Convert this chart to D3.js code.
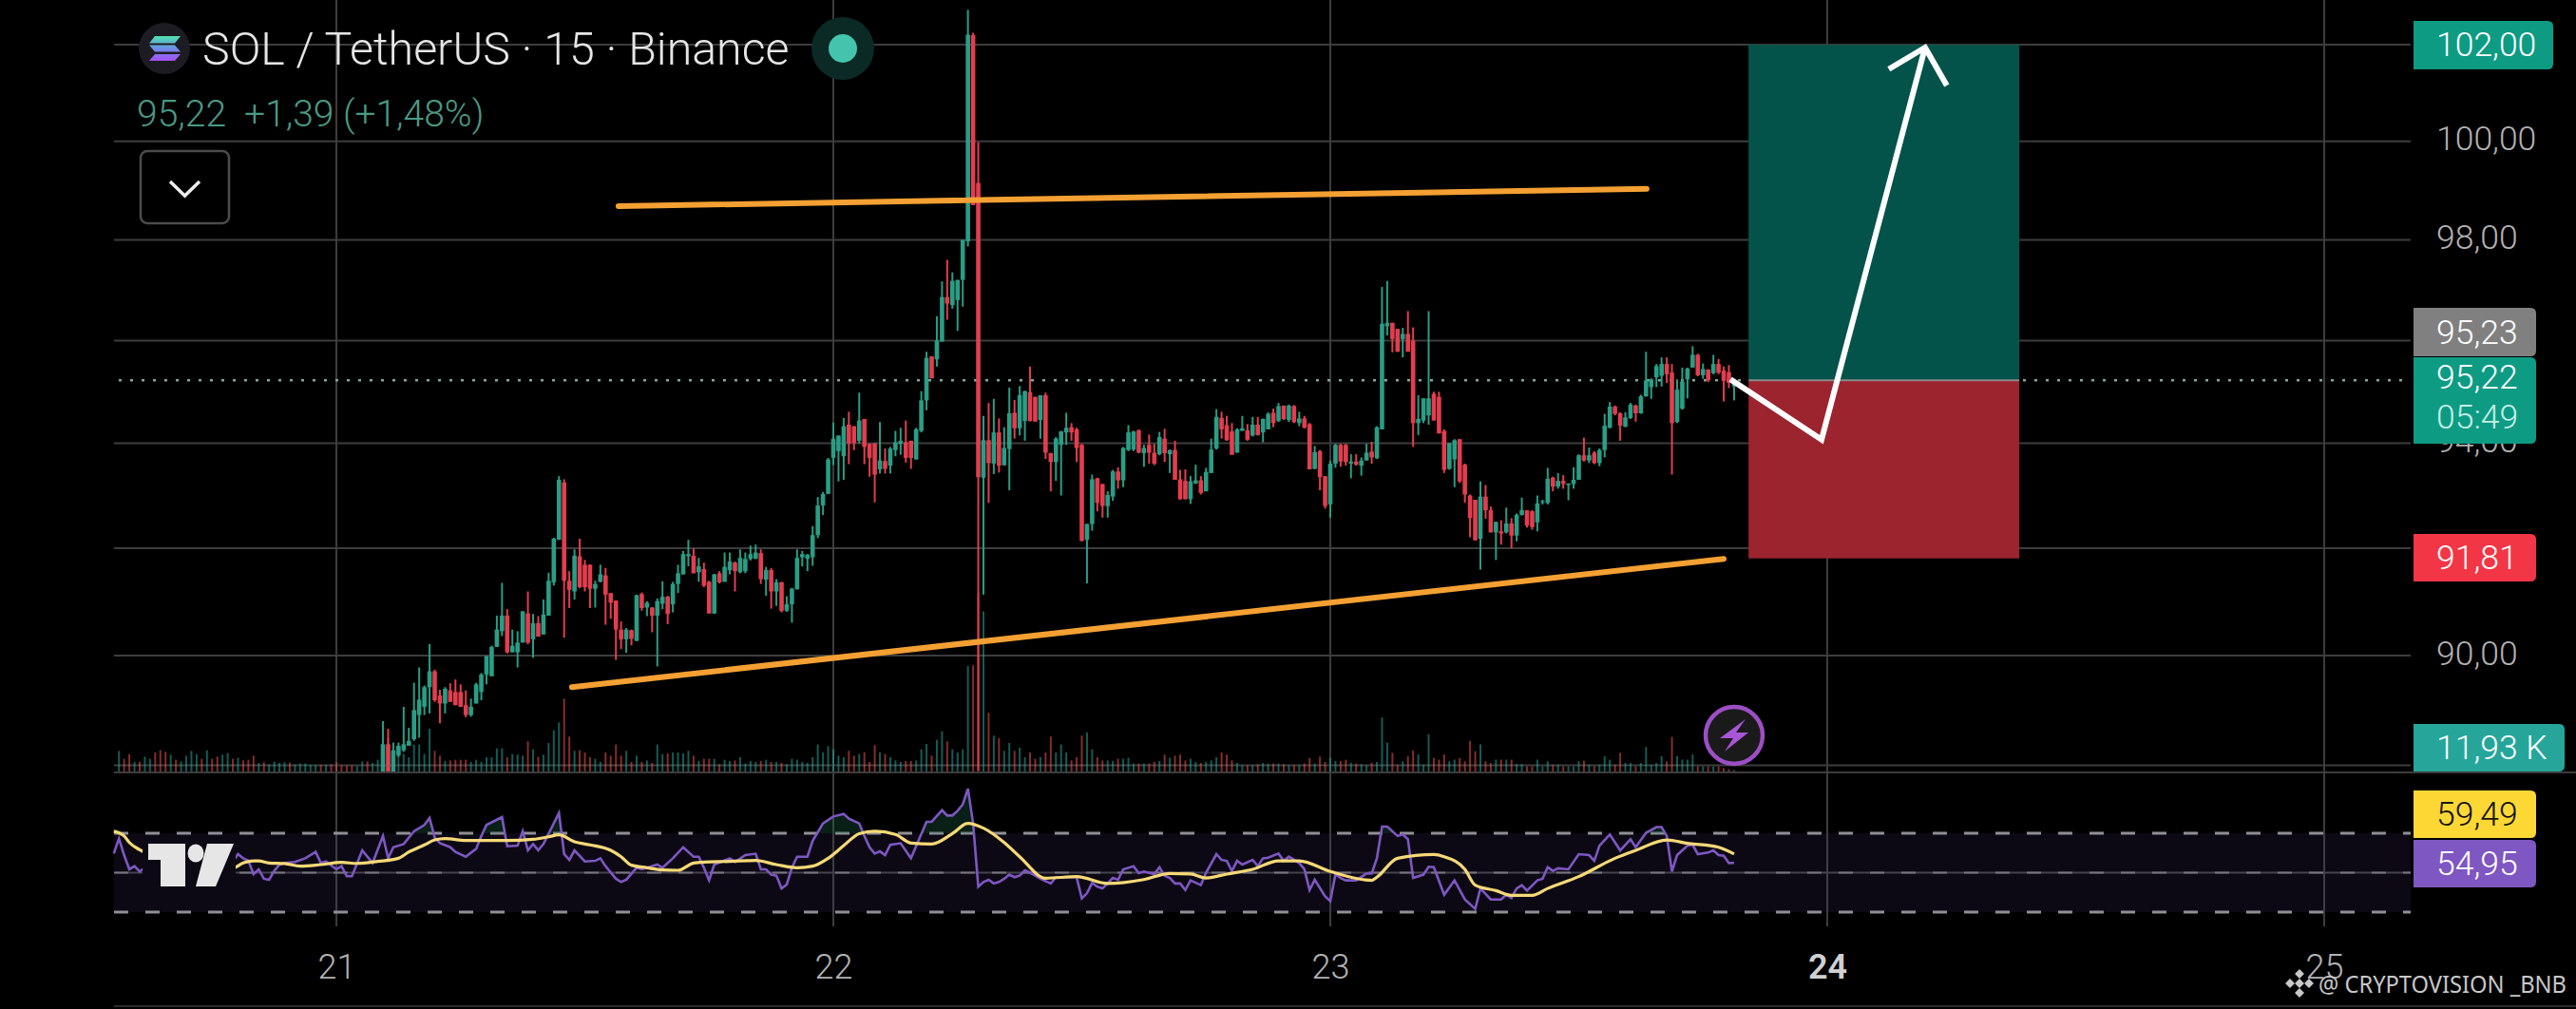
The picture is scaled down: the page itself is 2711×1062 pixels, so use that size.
<!DOCTYPE html>
<html>
<head>
<meta charset="utf-8">
<script src="https://cdn.jsdelivr.net/npm/d3@7"></script>
<style>
  html, body { margin: 0; background: #000; overflow: hidden; }
  text { font-family: Roboto, sans-serif; }
</style>
</head>
<body>
<script>
// candles, 15 minute bars. first one is 9 bars after the "21" tick
var firstBar = 9;
var opens = [
  87.85,88.38,87.88,88.18,88.27,88.35,88.47,88.91,89.06,89.42,
  89.71,89.27,89.12,89.36,89.33,89.33,89.09,88.91,89.12,89.33,
  89.65,89.62,90.16,90.45,90.74,90.06,90.06,90.24,90.78,90.3,
  90.6,90.39,90.74,91.36,92.16,93.25,91.39,91.19,91.85,91.69,
  91.69,91.24,91.37,91.49,91.16,91.02,90.48,90.3,90.47,90.27,
  91.14,90.89,90.89,90.74,90.96,91.09,90.95,91.33,91.51,91.85,
  91.86,91.55,91.61,91.37,90.78,91.53,91.37,91.59,91.73,91.55,
  91.57,91.8,91.8,91.91,91.41,91.59,91.19,91.36,90.83,90.95,
  91.23,91.83,91.8,91.83,92.25,92.81,93.03,93.72,93.85,93.75,
  94.36,94.33,94.05,94.47,93.99,94,93.5,93.66,93.57,93.87,
  93.99,94.02,94.05,93.69,94.24,94.83,95.69,95.63,95.98,96.86,
  96.7,96.8,97.2,97.97,102.2,99.15,93.34,94.06,93.61,94.21,
  93.58,93.89,94.59,94.29,94.43,94.99,94.9,94.45,94.93,93.81,
  93.64,93.97,94.21,94.31,94.27,93.97,92.16,92.46,93.33,93.22,
  92.8,92.98,93.46,93.29,93.87,93.88,94.25,93.81,93.97,93.82,
  93.79,94.09,93.79,93.87,93.31,93.28,92.93,93.23,93.29,93.08,
  93.43,93.9,94.49,94.35,94.23,93.82,94.24,94.25,94.15,94.36,
  94.21,94.27,94.59,94.43,94.73,94.45,94.72,94.39,94.48,94.37,
  93.51,93.85,93.37,92.83,93.61,93.97,93.97,93.61,93.65,93.57,
  93.67,93.84,93.71,94.27,96.28,96.35,96.23,96.03,96.13,96,
  94.39,94.44,94.54,94.96,94.9,94.24,93.51,93.69,94.08,93.59,
  93,92.92,92.18,92.98,92.72,92.3,92.32,92.3,92.47,92.24,
  92.63,92.72,92.7,92.49,92.87,92.86,93.34,93.17,93.28,93.2,
  93.22,93.3,93.77,93.67,93.82,93.62,93.87,94.3,94.71,94.58,
  94.32,94.49,94.73,94.58,94.91,95.09,95.28,95.31,95.54,95.37,
  94.41,94.67,95.24,95.47,95.72,95.32,95.43,95.36,95.54,95.41,
  95.38,95.1];
var highs = [
  88.8,88.66,88.41,88.41,89.06,88.68,89.5,89.78,89.45,90.21,
  89.74,89.37,89.42,89.49,89.56,89.47,89.36,89.21,89.5,89.68,
  89.99,90.18,90.74,91.35,90.86,90.48,90.45,90.82,91.19,90.77,
  90.73,91.04,91.54,92.2,93.37,93.31,91.57,91.98,92.18,91.78,
  91.7,91.39,91.69,91.63,91.16,91.02,90.63,90.51,90.48,91.13,
  91.17,91.01,90.9,91.06,91.38,91.11,91.37,91.69,91.95,92.16,
  92,91.82,91.73,91.39,91.52,91.57,91.92,91.92,91.75,91.98,
  91.92,92.05,92.07,91.98,91.65,91.63,91.42,91.37,91.1,91.26,
  91.98,91.95,91.89,92.42,92.97,93.07,93.72,94.4,94.15,94.49,
  94.61,94.33,94.98,94.47,93.99,94,94.41,93.9,93.93,94.24,
  94.3,94.44,94.05,94.3,95.01,95.78,95.69,96.48,97.17,97.6,
  97.35,97.2,98,102.73,102.25,99.98,94.53,94.78,94.86,94.48,
  94.31,95.08,94.84,95.11,95.02,95.49,94.9,94.93,94.98,93.82,
  94.12,94.24,94.59,94.39,94.3,93.99,92.46,93.4,93.34,93.22,
  93.08,93.49,93.54,93.93,94.35,94.24,94.27,93.97,94.17,93.99,
  94.22,94.28,93.88,94.05,93.49,93.5,93.37,93.59,93.37,93.53,
  94.09,94.66,94.61,94.53,94.39,94.29,94.53,94.37,94.51,94.51,
  94.48,94.6,94.67,94.78,94.73,94.75,94.74,94.61,94.53,94.39,
  93.95,93.87,93.37,93.67,93.99,93.99,93.99,93.79,93.79,93.73,
  93.99,94.03,94.33,97.06,97.18,96.35,96.23,96.25,96.58,96.26,
  94.93,94.87,96.58,95,95,94.27,94.01,94.08,94.08,93.61,
  93.02,92.92,93.27,93.2,92.79,92.5,92.53,92.77,92.57,92.66,
  92.96,92.72,92.72,93,92.92,93.53,93.36,93.43,93.39,93.23,
  93.54,93.79,94.11,93.92,93.85,93.9,94.57,94.8,94.73,94.6,
  94.6,94.78,94.75,94.94,95.78,95.26,95.54,95.67,95.67,95.54,
  95.24,95.47,95.47,95.89,95.74,95.55,95.44,95.72,95.64,95.49,
  95.52,95.24];
var lows = [
  87.85,87.85,87.85,88.15,88.24,88.35,88.44,88.5,88.91,88.94,
  89.15,88.76,88.94,89.15,89.09,89.06,88.87,88.88,89.12,89.18,
  89.47,89.62,90.16,90.36,90.04,90.06,89.78,90.24,90.21,89.96,
  90.35,90.39,90.74,91.3,92.16,90.33,90.88,91.04,91.25,91.19,
  90.88,90.89,91.36,90.57,90.68,89.92,90.12,90.05,90.19,90.27,
  90.83,90.73,90.43,89.8,90.86,90.58,90.8,91.16,91.51,91.66,
  91.53,91.37,91.27,90.78,90.77,91.34,91.37,91.51,91.19,91.53,
  91.53,91.77,91.8,91.33,91.11,90.87,90.92,90.8,90.81,90.61,
  91.23,91.66,91.57,91.67,92.19,92.63,93.03,93.58,93.27,93.3,
  93.6,93.87,94,93.6,93.36,92.87,93.42,93.42,93.42,93.75,
  93.78,93.63,93.51,93.69,94.21,94.64,95.26,95.49,95.98,96.41,
  96.63,96.19,96.67,97.87,98.7,87.9,91.13,92.86,93.41,93.44,
  93.57,93.1,94.09,94.15,94.05,94.42,94.42,94.09,93.7,93.08,
  93.28,93,93.97,94.05,93.64,92.13,91.34,92.33,92.7,92.58,
  92.58,92.9,93.13,93.16,93.85,93.85,93.81,93.55,93.61,93.58,
  93.77,93.64,93.43,93.3,92.92,92.93,92.84,93.22,93.02,93.08,
  93.43,93.88,94.09,94.05,93.78,93.82,94.24,94.05,94.13,94.15,
  94.02,94.27,94.31,94.41,94.45,94.41,94.39,94.33,94.29,93.5,
  93.5,93.1,92.75,92.58,93.53,93.55,93.57,93.33,93.57,93.38,
  93.67,93.61,93.7,94.27,96.1,95.77,95.78,95.67,95.78,93.93,
  94.16,94.39,94.36,94.44,94.19,93.43,93.49,93.16,93.24,92.86,
  92.21,92.15,91.6,92.56,92.3,91.78,92.07,92.28,92,92.13,
  92.62,92.39,92.35,92.32,92.83,92.83,93.08,93.13,93.13,92.91,
  93.13,93.3,93.65,93.62,93.6,93.56,93.73,94.29,94.54,94.05,
  94.31,94.47,94.42,94.57,94.9,94.86,95.09,95.1,95.17,93.4,
  94.39,94.65,94.87,95.47,95.3,95.25,95.19,95.34,95.34,94.81,
  95.07,94.83];
var closes = [
  88.38,87.85,88.27,88.35,88.38,88.44,89,89.19,89.42,89.71,
  89.18,89.12,89.39,89.15,89.09,89.06,88.91,89.06,89.47,89.65,
  89.99,90.16,90.48,90.74,90.06,90.18,90.24,90.82,90.24,90.6,
  90.35,90.76,91.39,92.18,93.3,91.39,91.22,91.86,91.27,91.27,
  91.24,91.33,91.51,91.13,90.98,90.48,90.3,90.48,90.31,91.12,
  90.88,90.98,90.74,91.01,91.09,90.77,91.33,91.53,91.89,91.89,
  91.53,91.66,91.3,90.78,91.51,91.36,91.65,91.75,91.57,91.82,
  91.8,91.89,91.92,91.42,91.59,91.19,91.36,90.83,90.95,91.24,
  91.82,91.89,91.88,92.25,92.81,93.03,93.69,94.09,94.15,94.33,
  94,94,94.44,93.93,93.72,93.4,93.67,93.51,93.9,94.02,
  94.05,93.72,93.72,94.27,94.83,95.66,95.26,96,96.86,96.73,
  97.18,97.2,98,102.21,98.7,93.35,94.06,93.62,94.21,93.57,
  93.91,94.58,94.29,94.93,95.01,94.43,94.42,94.93,93.82,93.64,
  94.09,94.23,94.3,94.21,93.91,92.14,92.46,93.31,92.86,92.8,
  93.01,93.46,93.29,93.91,94.21,94.23,93.82,93.91,93.82,93.61,
  94.12,93.81,93.87,93.3,92.93,92.93,93.27,93.29,93.05,93.45,
  93.88,94.51,94.27,94.06,93.78,94.27,94.29,94.07,94.36,94.16,
  94.47,94.57,94.39,94.72,94.47,94.73,94.41,94.48,94.3,93.5,
  93.83,93.35,92.8,93.61,93.97,93.65,93.64,93.65,93.59,93.67,
  93.82,93.73,94.31,96.33,96.35,96.03,95.78,96.13,95.78,94.39,
  94.47,94.87,94.87,94.44,94.19,93.49,94,94.06,93.27,93.02,
  92.57,92.15,92.98,92.72,92.3,92.5,92.28,92.47,92.24,92.63,
  92.72,92.43,92.4,92.85,92.89,93.32,93.17,93.28,93.22,93.23,
  93.3,93.77,93.67,93.77,93.62,93.87,94.34,94.71,94.57,94.34,
  94.5,94.75,94.58,94.91,95.22,95.24,95.5,95.54,95.34,94.39,
  95.04,95.2,95.45,95.72,95.32,95.44,95.22,95.54,95.37,95.21,
  95.17,95.22];

// volume in K. the early bars have no candle on screen, only volume
var earlyVolumes = [
  173,107,147,80,80,125,107,160,179,165,
  141,99,85,133,173,147,107,179,107,125,
  141,155,107,115,93,99,133,72,77,61,
  83,72,77,75,61,67,67,56,56,56,
  56,61,77,51,51,51,45,85,85,72,99];
var earlyUp = [
  1,0,0,1,0,1,1,0,0,0,
  1,0,1,1,1,1,0,1,0,0,
  1,1,0,1,0,0,0,1,0,1,
  1,1,1,0,1,1,1,1,1,0,
  1,0,0,0,0,0,1,1,0,1,1];
var volumes = [
  280,280,160,174,147,120,227,227,147,360,
  174,133,88,93,99,99,99,80,99,80,
  120,120,195,195,120,147,142,133,254,187,
  125,142,240,347,414,614,294,174,179,160,
  120,107,80,160,133,227,133,174,80,133,
  80,93,72,227,147,152,160,160,152,174,
  133,88,107,107,107,61,99,88,93,120,
  67,88,80,88,99,80,80,72,61,107,
  99,80,72,120,227,160,214,187,133,120,
  174,133,147,160,80,222,160,147,120,93,
  80,88,88,93,187,232,133,267,339,254,
  187,160,187,889,894,1500,1348,494,302,280,
  174,240,174,200,120,160,107,120,160,294,
  160,227,160,93,120,302,328,187,120,93,
  93,88,107,107,115,67,67,67,67,80,
  88,142,115,133,142,93,107,80,72,80,
  93,120,160,142,93,72,53,53,53,61,
  72,67,67,67,61,53,53,53,67,115,
  67,125,80,115,88,88,99,72,67,61,
  53,72,80,454,243,157,57,86,129,177,
  143,57,314,114,100,143,86,100,114,86,
  257,171,228,86,71,100,100,100,100,63,
  63,43,43,100,43,86,57,57,43,43,
  43,86,91,57,43,57,129,100,57,157,
  71,71,43,71,206,57,71,129,86,291,
  129,100,100,143,43,43,43,43,43,29,
  20,11.93];

// RSI pane, bar number counted from the "21" tick
var rsiBars = [
  -43,-42,-41,-40,-39,-38,-37,-35,-34,-30,-25,-20,-19,-18,-17,-16,-15,-14,-13,-12,
  -11,-10,-8,-6,-4,-3,-2,0,1,2,3,5,7,9,10,11,13,15,17,18,
  19,20,22,23,25,27,28,29,32,33,35,36,37,38,39,40,43,44,45,46,
  48,50,51,52,54,55,56,58,59,62,63,65,67,69,70,71,72,73,76,77,
  79,81,82,83,84,85,86,87,88,89,91,92,94,96,98,99,101,102,103,104,
  105,106,107,109,111,114,115,117,118,119,120,121,122,123,124,125,126,127,128,129,
  130,131,132,133,134,135,136,138,139,143,144,145,146,147,148,150,151,152,154,155,
  156,158,159,160,161,162,163,164,165,167,168,170,171,172,173,174,175,177,178,179,
  180,182,183,184,186,187,188,189,191,192,193,194,195,197,199,200,201,202,203,205,
  206,207,208,210,211,212,214,216,218,220,221,223,225,226,227,228,229,230,232,233,
  234,235,236,238,240,242,243,244,246,248,250,251,253,255,256,257,258,259,261,262,
  263,265,266,267,268,269,270];
var rsiValues = [
  59.7,67.3,58.9,51.7,53.3,50.6,52.5,51.7,48.5,53.3,54.1,55.7,59.4,57.3,56,49.3,51.7,46.9,46.4,50.9,
  54.1,54.9,55.4,57.3,60.5,54.9,55.7,51.7,53.3,48.2,48.2,61.3,54.9,68.6,57.3,62.9,64.5,71,74.2,77.7,
  67.8,65,62.9,60.5,58.1,62.1,68.6,74.2,78.2,63.4,63.7,71,61.3,64.5,61.3,64.5,80.3,59.4,56.5,61.3,
  55.7,56,57.3,53.3,46.9,45.3,46.4,52.5,51.7,54.1,52.5,57.3,62.9,58.1,58.1,52.5,46.1,54.1,57.3,55.4,
  58.9,59.6,51.7,51.7,49,48.5,42,44,52.5,58.1,58.1,66.1,75,78.5,79.8,77.4,75,68.6,62.9,59.7,
  60.8,58.9,64.1,64.9,57.3,75.8,75.8,81.7,79,79,81.4,84.6,92.6,75,42.9,45.3,46.4,44.5,45.3,46.9,
  49,47.7,48.5,51.2,50,48.5,46.9,44.5,47.7,47.7,36.9,39.6,44.8,42.9,42,47.3,46.4,51.7,53.3,49.8,
  50.6,49.3,52.8,48.5,47.3,44.5,44.5,41.2,46.1,43.7,50,59.4,56.5,56,50.9,56,54.1,56.5,53.3,57.3,
  57.6,59.7,56,58.1,54.9,51.7,41.2,46.4,38,35.6,49.3,47.3,46.1,46.1,49.6,49.6,57.3,73.4,73.4,68.6,
  69.4,66.9,47.3,49,53,52.8,38.8,46.1,36.4,31.6,42,36.4,36.4,38.8,37.2,42,43.7,40.9,46.1,46.9,
  52.8,50.9,52.2,51.7,59.4,58.9,56,63.7,69.4,61.3,66.9,62.9,70.2,73.1,73.1,68.6,50.6,58.9,63.7,64.1,
  59.4,60.2,61.3,58.9,58.6,54.9,54.95];
var rsiMaBars = [
  -43,-41,-40,-38,-30,-24,-20,-18,-16,-15,-13,-10,-7,-3,1,4,8,12,14,17,
  19,21,25,29,33,38,41,43,46,49,53,55,57,60,63,66,69,71,76,81,
  85,89,92,95,98,101,104,108,111,115,119,122,125,129,132,137,143,149,156,161,
  165,168,172,177,182,186,192,200,201,205,212,214,218,220,224,227,231,234,240,247,
  251,257,261,267,270];
var rsiMaValues = [
  71,68.6,65.3,61.6,54,51.7,52.2,54.9,56,56,54.9,54.6,53.3,54.1,55.2,54.7,55.7,57.3,60.5,64.1,
  66.6,67.3,66.3,66.3,66.3,66.9,68.2,69.2,65.7,64.1,61.3,58.1,53.8,52.5,51.4,51.2,54.9,55.4,55.7,56.2,
  54.1,52.5,53.3,57.3,63.7,69.8,71,69.4,65,64.5,69.8,75,72.6,65.3,58.1,47.2,48,44.5,46.5,49.6,
  49.3,47.3,49.3,51.7,56,56,50.6,46.1,47.7,57.3,59.2,58.1,51.7,43.7,40.9,38.5,38.5,42,48,57.3,
  61.3,66.6,64.9,62.9,59.49];
var rsiLevels = [70, 50, 30];

// axis ticks
var priceTicks = [102, 100, 98, 96, 94, 92, 90];
var dayTicks = [21, 22, 23, 24, 25];

// drawings on the chart: [bar, price]
var upperTrend = [[54.5, 98.68], [253.1, 99.03]];
var lowerTrend = [[45.5, 89.42], [268, 91.8]];
var arrowPath = [[269.3, 95.24], [286.9, 94.07], [306.9, 101.94]];
var arrowHead = [[299.9, 101.49], [306.9, 101.94], [311.1, 101.15]];
var positionBars = [272.8, 325.1];
var positionLevels = [102, 95.22, 91.81];
var lastPrice = 95.22;

var W = 2711, H = 1062;
var left = 120, right = 2537;
var green = "#2a9d85", red = "#e23e4f";

var svg = d3.select("body").append("svg")
    .attr("width", W)
    .attr("height", H)
    .style("display", "block")
    .style("background", "#000");

var x = d3.scaleLinear().domain([21, 25]).range([354, 2446]);
var bx = function(k) { return x(21 + k / 96); };
var y = d3.scaleLog().domain([90, 102]).range([690, 47]);
var volY = d3.scaleLinear().domain([0, 1500]).range([812, 624.5]);
var rsiY = d3.scaleLinear().domain([30, 70]).range([960, 877]);

var defs = svg.append("defs");
defs.append("clipPath").attr("id", "mainPane").append("rect")
    .attr("x", left).attr("y", 0).attr("width", right - left).attr("height", 812);
defs.append("clipPath").attr("id", "overbought").append("rect")
    .attr("x", left).attr("y", 800).attr("width", right - left).attr("height", rsiY(70) - 800);
var solGrad = defs.append("linearGradient").attr("id", "solGrad")
    .attr("x1", 0).attr("y1", 0).attr("x2", 0).attr("y2", 1);
solGrad.append("stop").attr("offset", "0%").attr("stop-color", "#4fe3ae");
solGrad.append("stop").attr("offset", "50%").attr("stop-color", "#6c8ee6");
solGrad.append("stop").attr("offset", "100%").attr("stop-color", "#a64ff2");

// grid
var grid = svg.append("g").attr("stroke", "#3d3d3d").attr("stroke-width", 2);
grid.selectAll(".h").data(priceTicks).enter().append("line")
    .attr("x1", left).attr("x2", right)
    .attr("y1", function(d) { return y(d); })
    .attr("y2", function(d) { return y(d); });
grid.append("line").attr("x1", left).attr("x2", right).attr("y1", 805.5).attr("y2", 805.5);
grid.append("line").attr("x1", left).attr("x2", W).attr("y1", 813).attr("y2", 813);
grid.append("line").attr("x1", left).attr("x2", W).attr("y1", 1059).attr("y2", 1059).attr("stroke", "#2c2c2c");

// rsi band goes under the vertical lines
svg.append("rect")
    .attr("x", left).attr("y", rsiY(70))
    .attr("width", right - left).attr("height", rsiY(30) - rsiY(70))
    .attr("fill", "#0c0914");

svg.append("g").attr("stroke", "#3d3d3d").attr("stroke-width", 2)
    .selectAll("line").data(dayTicks).enter().append("line")
    .attr("x1", function(d) { return x(d); })
    .attr("x2", function(d) { return x(d); })
    .attr("y1", 0).attr("y2", 975);

svg.append("line")
    .attr("x1", left).attr("x2", right)
    .attr("y1", rsiY(50)).attr("y2", rsiY(50))
    .attr("stroke", "#45434c").attr("stroke-width", 2);
svg.selectAll(".rsiLevel").data(rsiLevels).enter().append("line")
    .attr("x1", left).attr("x2", right)
    .attr("y1", function(d) { return rsiY(d); })
    .attr("y2", function(d) { return rsiY(d); })
    .attr("stroke", function(d) { return d == 50 ? "#77757f" : "#8f8f95"; })
    .attr("stroke-width", function(d) { return d == 50 ? 2 : 3; })
    .attr("stroke-dasharray", "15 18");

// last price dots
svg.append("line")
    .attr("x1", left + 5).attr("x2", right)
    .attr("y1", y(lastPrice)).attr("y2", y(lastPrice))
    .attr("stroke", "#83a79c").attr("stroke-width", 2.5)
    .attr("stroke-dasharray", "3 9");

// volume
var volG = svg.append("g").attr("stroke-width", 2).attr("stroke-opacity", 0.55);
volG.selectAll(".early").data(earlyVolumes).enter().append("line")
    .attr("x1", function(d, i) { return bx(firstBar - earlyVolumes.length + i); })
    .attr("x2", function(d, i) { return bx(firstBar - earlyVolumes.length + i); })
    .attr("y1", volY(0))
    .attr("y2", function(d) { return volY(d); })
    .attr("stroke", function(d, i) { return earlyUp[i] ? "#26a69a" : "#ef5350"; });
volG.selectAll(".vol").data(volumes).enter().append("line")
    .attr("x1", function(d, i) { return bx(firstBar + i); })
    .attr("x2", function(d, i) { return bx(firstBar + i); })
    .attr("y1", volY(0))
    .attr("y2", function(d) { return volY(d); })
    .attr("stroke", function(d, i) { return closes[i] >= opens[i] ? "#26a69a" : "#ef5350"; });

// candles
var candles = svg.append("g").attr("clip-path", "url(#mainPane)")
    .selectAll("g").data(closes).enter().append("g")
    .attr("fill", function(d, i) { return d >= opens[i] ? green : red; })
    .attr("stroke", function(d, i) { return d >= opens[i] ? green : red; });
candles.append("line")
    .attr("x1", function(d, i) { return bx(firstBar + i); })
    .attr("x2", function(d, i) { return bx(firstBar + i); })
    .attr("y1", function(d, i) { return y(highs[i]); })
    .attr("y2", function(d, i) { return y(lows[i]); })
    .attr("stroke-width", 2);
candles.append("rect")
    .attr("x", function(d, i) { return bx(firstBar + i) - 2.3; })
    .attr("width", 4.6)
    .attr("y", function(d, i) { return y(Math.max(d, opens[i])); })
    .attr("height", function(d, i) { return Math.max(1, y(Math.min(d, opens[i])) - y(Math.max(d, opens[i]))); })
    .attr("stroke", "none");

// rsi lines
var rsiPts = rsiBars.map(function(b, i) { return [b, rsiValues[i]]; });
var maPts = rsiMaBars.map(function(b, i) { return [b, rsiMaValues[i]]; });
var line = d3.line()
    .x(function(d) { return bx(d[0]); })
    .y(function(d) { return rsiY(d[1]); });

svg.append("path")
    .attr("clip-path", "url(#overbought)")
    .attr("d", d3.area()
        .x(function(d) { return bx(d[0]); })
        .y0(rsiY(70))
        .y1(function(d) { return rsiY(d[1]); })(rsiPts))
    .attr("fill", "#1e6b4a").attr("fill-opacity", 0.3);
svg.append("path").attr("d", line(rsiPts))
    .attr("fill", "none").attr("stroke", "#7e57c2").attr("stroke-width", 2.6);
svg.append("path").attr("d", line.curve(d3.curveMonotoneX)(maPts))
    .attr("fill", "none").attr("stroke", "#f6d977").attr("stroke-width", 3.2);
line.curve(d3.curveLinear);

// long position box
svg.append("rect")
    .attr("x", bx(positionBars[0])).attr("width", bx(positionBars[1]) - bx(positionBars[0]))
    .attr("y", y(positionLevels[0])).attr("height", y(positionLevels[1]) - y(positionLevels[0]))
    .attr("fill", "#03534a");
svg.append("rect")
    .attr("x", bx(positionBars[0])).attr("width", bx(positionBars[1]) - bx(positionBars[0]))
    .attr("y", y(positionLevels[1])).attr("height", y(positionLevels[2]) - y(positionLevels[1]))
    .attr("fill", "#9b242f");
svg.append("line")
    .attr("x1", bx(positionBars[0])).attr("x2", bx(positionBars[1]))
    .attr("y1", y(positionLevels[1])).attr("y2", y(positionLevels[1]))
    .attr("stroke", "#8a8a8a").attr("stroke-width", 2);

// trend lines and hand drawn arrow
var priceLine = d3.line()
    .x(function(d) { return bx(d[0]); })
    .y(function(d) { return y(d[1]); });
[upperTrend, lowerTrend].forEach(function(t) {
    svg.append("path").attr("d", priceLine(t))
        .attr("fill", "none").attr("stroke", "#f5a033")
        .attr("stroke-width", 6).attr("stroke-linecap", "round");
});
[arrowPath, arrowHead].forEach(function(t) {
    svg.append("path").attr("d", priceLine(t))
        .attr("fill", "none").attr("stroke", "#fff")
        .attr("stroke-width", 6).attr("stroke-linejoin", "miter");
});

// price axis
var priceAxis = svg.append("g")
    .attr("transform", "translate(2564,0)")
    .call(d3.axisRight(y).tickValues(priceTicks).tickSize(0).tickPadding(0)
        .tickFormat(function(d) { return d.toFixed(2).replace(".", ","); }));
priceAxis.select(".domain").remove();
priceAxis.selectAll("text")
    .attr("dy", "0.26em")
    .attr("fill", "#b2b2b2")
    .style("font-family", "Roboto")
    .style("font-size", "35.5px")
    .style("font-weight", 300);

// day axis
var dayAxis = svg.append("g")
    .attr("transform", "translate(0,1000)")
    .call(d3.axisBottom(x).tickValues(dayTicks).tickSize(0).tickPadding(0).tickFormat(d3.format("d")));
dayAxis.select(".domain").remove();
dayAxis.selectAll("text")
    .attr("dy", "0.84em")
    .attr("fill", function(d) { return d == 24 ? "#d0d0d0" : "#b2b2b2"; })
    .style("font-family", "Roboto")
    .style("font-size", "36px")
    .style("font-weight", function(d) { return d == 24 ? 600 : 300; });

// price tags on the right
function tag(x0, x1, y0, y1, fill) {
    var r = 6;
    svg.append("path")
        .attr("d", "M" + x0 + "," + y0 + "H" + (x1 - r) + "Q" + x1 + "," + y0 + " " + x1 + "," + (y0 + r) +
            "V" + (y1 - r) + "Q" + x1 + "," + y1 + " " + (x1 - r) + "," + y1 + "H" + x0 + "Z")
        .attr("fill", fill);
}
function tagText(str, baseline, fill) {
    svg.append("text").attr("x", 2564).attr("y", baseline).text(str)
        .attr("fill", fill).attr("font-size", 35.5).attr("font-weight", 300);
}
tag(2540, 2687, 22, 73, "#0e9b84");
tagText("102,00", 59, "#fff");
tag(2540, 2669, 324, 375, "#808080");
tagText("95,23", 362, "#fff");
tag(2540, 2669, 376, 467, "#0e9b84");
tagText("95,22", 409, "#fff");
tagText("05:49", 451, "#c4f0e4");
tag(2540, 2669, 562, 612, "#f23645");
tagText("91,81", 599, "#fff");
tag(2540, 2699, 762, 812, "#26a69a");
tagText("11,93 K", 799, "#fff");
tag(2540, 2669, 832, 882, "#fdd835");
tagText("59,49", 869, "#131313");
tag(2540, 2669, 884, 934, "#7e57c2");
tagText("54,95", 921, "#fff");

// header
svg.append("circle").attr("cx", 173).attr("cy", 51).attr("r", 27).attr("fill", "#1c1c22");
var solBars = svg.append("g").attr("fill", "url(#solGrad)");
solBars.append("path").attr("d", "M163,38H190L184,45.5H157Z M157,47.5H184L190,54.5H163Z M163,57H190L184,64H157Z")
    .attr("fill", "url(#solGrad)");
svg.append("text").attr("x", 213).attr("y", 68).text("SOL / TetherUS · 15 · Binance")
    .attr("fill", "#e6e6e6").attr("font-size", 48.3).attr("font-weight", 300);
svg.append("text").attr("x", 144).attr("y", 133).text("95,22  +1,39 (+1,48%)")
    .attr("xml:space", "preserve")
    .attr("fill", "#4a9a85").attr("font-size", 39).attr("font-weight", 300);
svg.append("circle").attr("cx", 887).attr("cy", 51).attr("r", 33).attr("fill", "#0b2a26");
svg.append("circle").attr("cx", 887).attr("cy", 51).attr("r", 15).attr("fill", "#44c4ac");

svg.append("rect").attr("x", 148).attr("y", 159).attr("width", 93).attr("height", 76).attr("rx", 7)
    .attr("fill", "#000").attr("stroke", "#4c4c4c").attr("stroke-width", 2.5);
svg.append("path").attr("d", "M179,191L194.5,206L210,191")
    .attr("fill", "none").attr("stroke", "#eee").attr("stroke-width", 3.5);

// lightning badge
svg.append("circle").attr("cx", 1825).attr("cy", 774).attr("r", 30)
    .attr("fill", "#1a1a1a").attr("stroke", "#9c4fc4").attr("stroke-width", 4.5);
svg.append("path").attr("d", "M1837,757L1810,777H1824L1815,791L1840,771H1827Z").attr("fill", "#a855d8");

// tradingview mark over the rsi pane
svg.append("rect").attr("x", 150).attr("y", 881).attr("width", 98).attr("height", 57).attr("fill", "#0c0914");
var tv = svg.append("g").attr("fill", "#e6e6e6");
tv.append("path").attr("d", "M156,888H195V933H169V905H156Z");
tv.append("ellipse").attr("cx", 206).attr("cy", 898).attr("rx", 8.5).attr("ry", 9.5);
tv.append("path").attr("d", "M218,888H246L227,933H206Z");

// source stamp
var bn = svg.append("g").attr("fill", "#c8c8c8");
bn.selectAll("rect").data([[2420, 1025], [2410, 1035], [2430, 1035], [2420, 1045], [2420, 1035]]).enter().append("rect")
    .attr("x", function(d) { return d[0] - 3.5; })
    .attr("y", function(d) { return d[1] - 3.5; })
    .attr("width", 7).attr("height", 7)
    .attr("transform", function(d) { return "rotate(45," + d[0] + "," + d[1] + ")"; });
svg.append("text").attr("x", 2440).attr("y", 1045).text("@ CRYPTOVISION _BNB")
    .style("font-family", "'Noto Sans'")
    .attr("fill", "#c8c8c8").attr("font-size", 26)
    .attr("textLength", 261).attr("lengthAdjust", "spacingAndGlyphs");
</script>
</body>
</html>
